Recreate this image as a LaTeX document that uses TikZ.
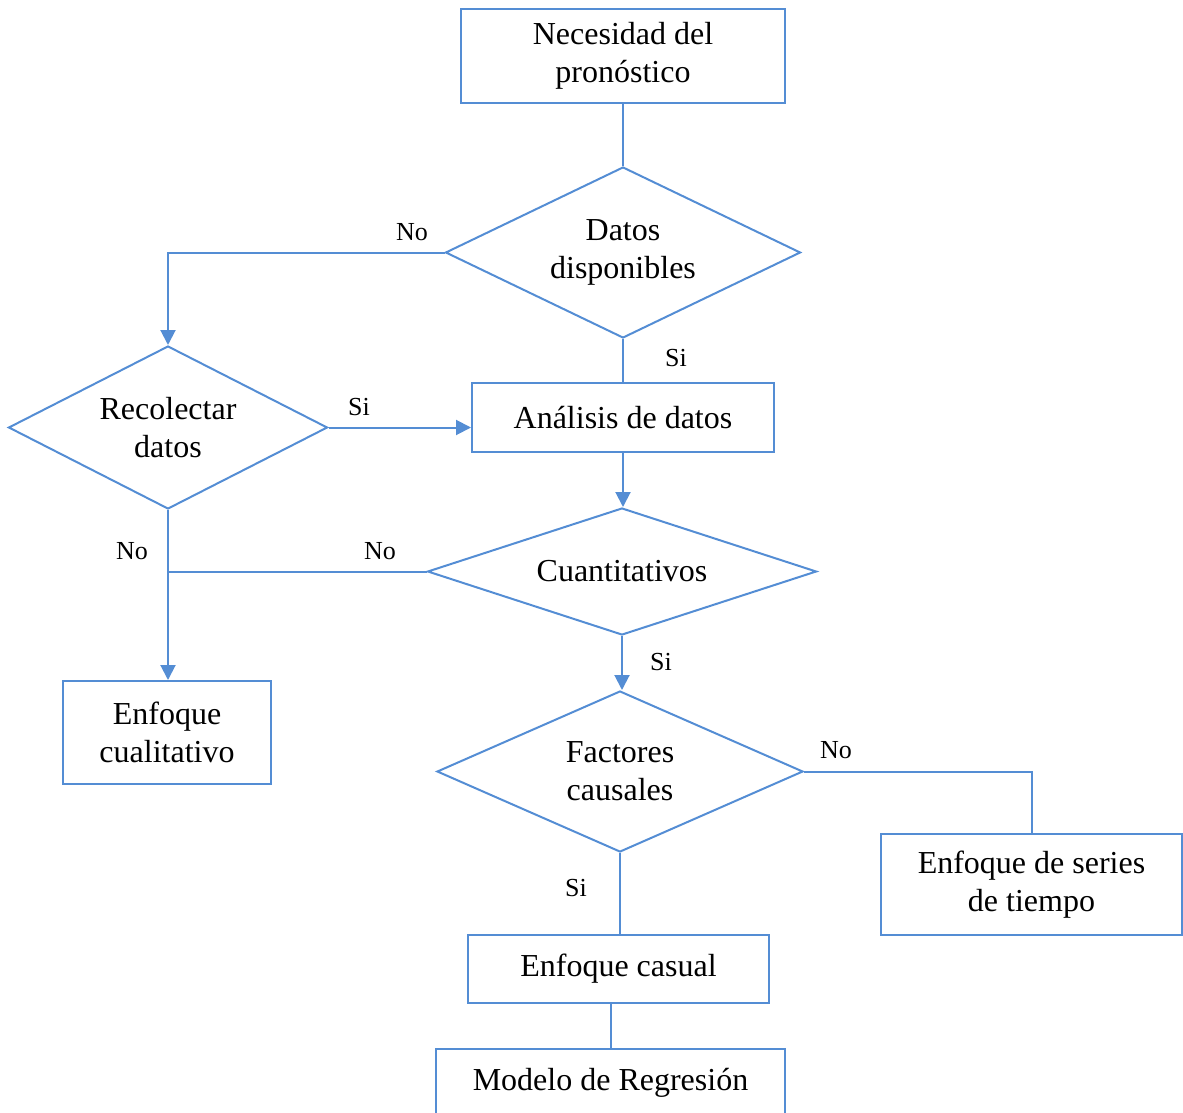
\documentclass[tikz,border=0pt]{standalone}
\usepackage{fontspec}
\setmainfont{Liberation Serif}
\usepackage{tikz}
\usetikzlibrary{shapes.geometric}
\usetikzlibrary{arrows.meta}
\definecolor{flowblue}{RGB}{84,141,212}
\tikzset{
	flowbox/.style={draw=flowblue, line width=1pt, rectangle, align=center, inner sep=0pt, font=\fontsize{16}{19}\selectfont},
	flowdec/.style={draw=flowblue, line width=1pt, diamond, align=center, inner sep=0pt, font=\fontsize{16}{19}\selectfont},
	flowline/.style={draw=flowblue, line width=1pt},
	flowarrow/.style={flowline, -{Triangle[length=7.5pt,width=7.5pt]}},
	answer/.style={font=\fontsize{13}{15}\selectfont, inner sep=0pt}
}

\begin{document}
\begin{tikzpicture}[x=0.5pt, y=-0.5pt]
	% page frame
	\clip (0,0) rectangle (1183,1113);
	
	% draw boxes
	\node[flowbox, minimum width=162pt, minimum height=47pt] (need) at (623,56) {Necesidad del\\pronóstico};
	\node[flowbox, minimum width=151pt, minimum height=34.5pt] (analysis) at (623,417.5) {Análisis de datos};
	\node[flowbox, minimum width=104pt, minimum height=51.5pt] (quali) at (167,732.5) {Enfoque\\cualitativo};
	\node[flowbox, minimum width=150.5pt, minimum height=50.5pt] (series) at (1031.5,884.5) {Enfoque de series\\de tiempo};
	\node[flowbox, minimum width=150.5pt, minimum height=34pt] (causal) at (618.5,969) {Enfoque casual};
	\node[flowbox, minimum width=174.5pt, minimum height=34pt] (regress) at (610.5,1083) {Modelo de Regresión};
	
	% draw decisions
	\node[flowdec, aspect=2.08, minimum width=177.5pt, minimum height=85.5pt] (avail) at (623,252.5) {Datos\\disponibles};
	\node[flowdec, aspect=1.96, minimum width=159.5pt, minimum height=81.5pt] (collect) at (168,427.5) {Recolectar\\datos};
	\node[flowdec, aspect=3.06, minimum width=194.5pt, minimum height=63.5pt] (quant) at (622,571.5) {Cuantitativos};
	\node[flowdec, aspect=2.27, minimum width=183pt, minimum height=80.5pt] (factors) at (620,771.5) {Factores\\causales};
	
	% draw connectors
	\draw[flowline] (need) -- (avail);
	\draw[flowarrow] (avail.west) -| (collect.north);
	\draw[flowline] (avail) -- (analysis);
	\draw[flowarrow] (collect.east) -- (collect.east -| analysis.west);
	\draw[flowarrow] (analysis.south) -- (analysis.south |- quant.north);
	\draw[flowarrow] (collect.south) -- (collect.south |- quali.north);
	\coordinate (join) at (collect.south |- quant.west);
	\draw[flowline] (quant.west) -- (join);
	\draw[flowarrow] (quant.south) -- (quant.south |- factors.north);
	\draw[flowline] (factors.east) -| (series.north);
	\draw[flowline] (factors.south) -- (factors.south |- causal.north);
	\draw[flowline] (causal.south -| regress.north) -- (regress.north);
	
	% draw answers
	\node[answer] (availno) at (412,232) {No};
	\node[answer] (availsi) at (676,358) {Si};
	\node[answer] (collectsi) at (359,407) {Si};
	\node[answer] (collectno) at (132,551) {No};
	\node[answer] (quantno) at (380,551) {No};
	\node[answer] (quantsi) at (661,662) {Si};
	\node[answer] (factorsno) at (836,750) {No};
	\node[answer] (factorssi) at (576,888) {Si};
\end{tikzpicture}
\end{document}
